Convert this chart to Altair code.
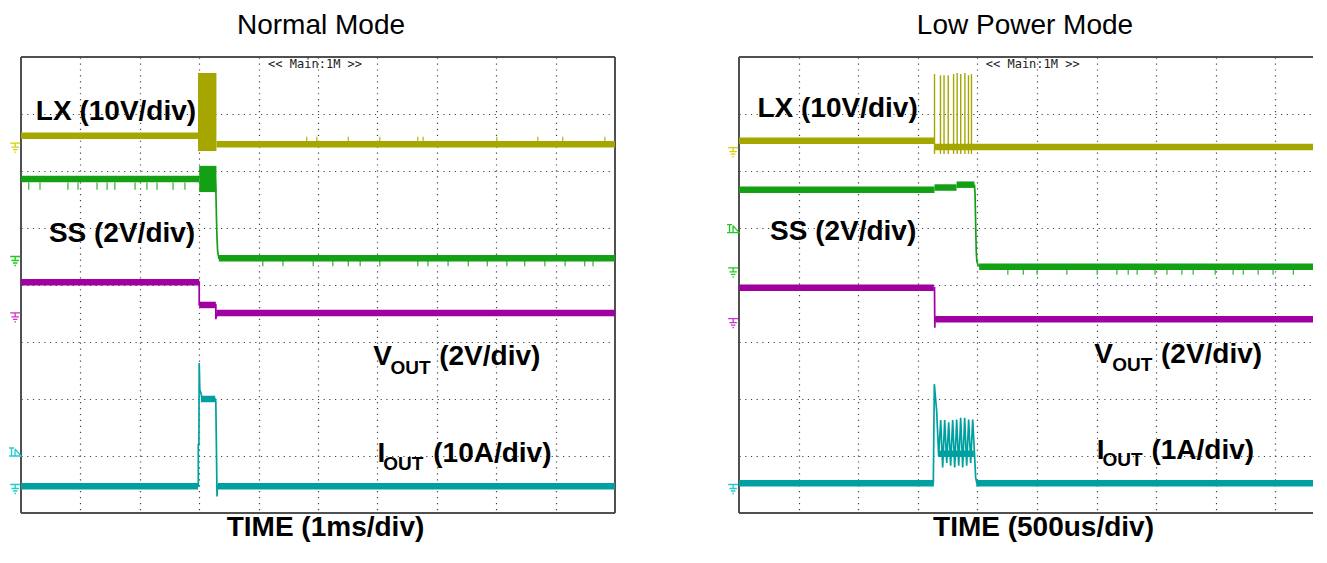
import altair as alt
import pandas as pd

# ---------------- data (oscilloscope divisions: x 0..10, y 0..8) ----------------
TRACES = ["LX", "SS", "VOUT", "IOUT"]

# ---- Normal Mode (1ms/div) ----
N_LEVEL_TRACE = ["LX", "LX", "SS", "SS", "VOUT", "VOUT", "VOUT", "IOUT", "IOUT", "IOUT"]
N_LEVEL_X1 = [0.0, 3.29, 0.0, 3.33, 0.0, 3.00, 3.29, 0.0, 3.03, 3.31]
N_LEVEL_X2 = [2.98, 10.0, 3.00, 10.0, 3.00, 3.28, 10.0, 2.98, 3.27, 10.0]
N_LEVEL_Y = [6.62, 6.47, 5.86, 4.47, 4.05, 3.65, 3.51, 0.47, 2.00, 0.47]

N_BURST_TRACE = ["LX", "SS"]
N_BURST_X1 = [2.98, 3.00]
N_BURST_X2 = [3.29, 3.29]
N_BURST_Y1 = [6.35, 5.63]
N_BURST_Y2 = [7.72, 6.09]

N_SS_EDGE_X = [3.27, 3.28, 3.29, 3.30, 3.31, 3.33, 3.36]
N_SS_EDGE_Y = [5.88, 5.70, 5.20, 4.82, 4.60, 4.47, 4.47]
N_VOUT_EDGE_X = [2.99, 3.00, 3.00, 3.28, 3.28, 3.30]
N_VOUT_EDGE_Y = [4.05, 4.05, 3.65, 3.65, 3.40, 3.51]
N_IOUT_EDGE_X = [2.97, 2.985, 2.985, 2.995, 3.00, 3.01, 3.03, 3.05, 3.27, 3.28, 3.30, 3.305, 3.32]
N_IOUT_EDGE_Y = [0.47, 0.47, 1.20, 1.20, 2.63, 2.16, 2.10, 2.00, 2.00, 1.95, 0.29, 0.47, 0.47]

# small glitches on the traces
N_GLITCH_TRACE = (["SS"] * 12) + (["SS"] * 18) + (["LX"] * 10)
N_GLITCH_X = [0.13, 0.32, 0.79, 0.96, 1.28, 1.45, 1.58, 1.92, 2.12, 2.29, 2.56, 2.76,
              4.07, 4.41, 4.92, 5.25, 5.51, 5.71, 6.04, 6.68, 6.85, 7.19, 7.53, 7.85,
              8.18, 8.48, 8.82, 9.16, 9.49, 9.63,
              4.81, 4.98, 5.51, 6.04, 6.68, 6.77, 8.01, 8.70, 9.12, 9.83]
N_GLITCH_Y1 = [5.80] * 12 + [4.42] * 18 + [6.52] * 10
N_GLITCH_Y2 = [5.67] * 12 + [4.33] * 18 + [6.60] * 10

N_GND_TRACE = ["LX", "SS", "VOUT", "IOUT"]
N_GND_Y = [6.49, 4.50, 3.51, 0.50]
N_TRIG_TRACE = ["IOUT"]
N_TRIG_Y = [1.07]

N_LABEL_TEXT = ["LX (10V/div)", "SS (2V/div)", "V", "(2V/div)", "I", "(10A/div)"]
N_LABEL_X = [0.25, 0.47, 5.93, 7.04, 6.00, 6.94]
N_LABEL_Y = [6.90, 4.75, 2.59, 2.59, 0.895, 0.895]
N_SUB_TEXT = ["OUT", "OUT"]
N_SUB_X = [6.22, 6.10]
N_SUB_Y = [2.44, 0.76]

# ---- Low Power Mode (500us/div) ----
P_XMAX = 9.63
P_LEVEL_TRACE = ["LX", "LX", "SS", "SS", "SS", "SS", "VOUT", "VOUT", "IOUT", "IOUT", "IOUT"]
P_LEVEL_X1 = [0.0, 3.28, 0.0, 3.28, 3.65, 4.03, 0.0, 3.30, 0.0, 3.98, 3.34]
P_LEVEL_X2 = [3.28, 9.63, 3.28, 3.65, 3.95, 9.63, 3.27, 9.63, 3.27, 9.63, 3.94]
P_LEVEL_Y = [6.53, 6.42, 5.67, 5.71, 5.76, 4.32, 3.95, 3.40, 0.52, 0.52, 1.04]

P_LX_SPIKE_X = [3.28, 3.38, 3.44, 3.51, 3.60, 3.66, 3.72, 3.79, 3.85, 3.90]
P_LX_SPIKE_TOP = [7.70, 7.68, 7.68, 7.68, 7.70, 7.72, 7.70, 7.72, 7.68, 7.70]
P_LX_SPIKE_BOTTOM = [6.30, 6.30, 6.30, 6.30, 6.30, 6.30, 6.30, 6.30, 6.30, 6.30]

P_SS_EDGE_X = [3.95, 3.96, 3.97, 3.98, 3.99, 4.01, 4.05]
P_SS_EDGE_Y = [5.76, 5.60, 5.10, 4.60, 4.42, 4.35, 4.32]
P_VOUT_EDGE_X = [3.27, 3.28, 3.285, 3.29, 3.30, 3.32]
P_VOUT_EDGE_Y = [3.95, 3.95, 3.25, 3.45, 3.38, 3.40]
P_IOUT_EDGE_X = [3.26, 3.277, 3.316, 3.350, 3.384, 3.417, 3.451, 3.485, 3.518, 3.551, 3.585,
                 3.619, 3.652, 3.686, 3.719, 3.753, 3.786, 3.820, 3.853, 3.887, 3.921, 3.954,
                 3.971, 3.99]
P_IOUT_EDGE_Y = [0.52, 2.26, 1.79, 1.00, 1.63, 0.80, 1.63, 0.88, 1.59, 0.83, 1.63,
                 0.80, 1.64, 0.83, 1.67, 0.80, 1.67, 0.83, 1.64, 0.88, 1.64, 0.97,
                 0.62, 0.52]

P_GLITCH_TRACE = ["SS"] * 18
P_GLITCH_X = [4.51, 4.77, 5.00, 5.50, 6.01, 6.34, 6.53, 6.68, 6.98, 7.18, 7.43, 7.62,
              7.99, 8.29, 8.46, 8.71, 8.96, 9.30]
P_GLITCH_Y1 = [4.27] * 18
P_GLITCH_Y2 = [4.18] * 18

P_GND_TRACE = ["LX", "SS", "VOUT", "IOUT"]
P_GND_Y = [6.41, 4.30, 3.41, 0.50]
P_TRIG_TRACE = ["SS"]
P_TRIG_Y = [4.99]

P_LABEL_TEXT = ["LX (10V/div)", "SS (2V/div)", "V", "(2V/div)", "I", "(1A/div)"]
P_LABEL_X = [0.31, 0.52, 5.96, 7.08, 6.00, 6.92]
P_LABEL_Y = [6.94, 4.79, 2.63, 2.63, 0.94, 0.94]
P_SUB_TEXT = ["OUT", "OUT"]
P_SUB_X = [6.26, 6.10]
P_SUB_Y = [2.49, 0.82]

HEADER_TEXT = ["<< Main:1M >>"]
N_HEADER_X = [4.16]
P_HEADER_X = [4.14]
HEADER_Y = [7.81]

# frame edges of the 10x8 division graticule
N_FRAME_X1 = [0, 10, 0, 0]
N_FRAME_X2 = [0, 10, 10, 10]
N_FRAME_Y1 = [0, 0, 0, 8]
N_FRAME_Y2 = [8, 8, 0, 8]
P_FRAME_X1 = [0, 0, 0]
P_FRAME_X2 = [0, 9.63, 9.63]
P_FRAME_Y1 = [0, 0, 8]
P_FRAME_Y2 = [8, 0, 8]

GRID_X = [1, 2, 3, 4, 5, 6, 7, 8, 9]
GRID_Y = [1, 2, 3, 4, 5, 6, 7]

# ---------------- styles ----------------
TRACE_COLOR = {"LX": "#a6a600", "SS": "#14a014", "VOUT": "#a000a0", "IOUT": "#00a0a0"}
GLITCH_COLOR = {"LX": "#b8b830", "SS": "#40b840", "VOUT": "#b030b0", "IOUT": "#30b0b0"}
MARK_COLOR = {"LX": "#d2d200", "SS": "#22c822", "VOUT": "#cc33cc", "IOUT": "#22cccc"}
FONT = "Liberation Sans"
GND_PATH = "M-1,0H1M0,0V0.8M-0.75,0.8H0.75M-0.45,1.3H0.45M-0.15,1.8H0.15"
TRIG_PATH = "M-1.2,-0.8H-0.2M-0.7,-0.8V0.8M0,-0.6L1.2,0.8H-1.2M0,-0.6V0.8"


def edges_df(parts):
    rows = []
    for seg, (trace, xs, ys) in enumerate(parts):
        for i, (x, y) in enumerate(zip(xs, ys)):
            rows.append({"seg": seg, "i": i, "x": x, "y": y, "c": TRACE_COLOR[trace]})
    return pd.DataFrame(rows)


def panel(title, title_dx, time_label, time_x, xmax, width, levels, bursts, spikes, edges,
          glitches, gnd, trig, labels, subs, header_x, frame):
    xs = alt.Scale(domain=[0, xmax], nice=False, zero=False)
    ys = alt.Scale(domain=[0, 8], nice=False, zero=False)
    xaxis = alt.Axis(values=GRID_X, grid=True, labels=False, ticks=False, domain=False,
                     title=time_label, titleFont=FONT, titleFontSize=28, titleFontWeight="bold",
                     titleColor="black", titleX=time_x, titleY=22, titleBaseline="alphabetic",
                     titleAlign="center", gridColor="#444444", gridDash=[1.2, 4.74],
                     gridWidth=1.2, gridOpacity=1)
    yaxis = alt.Axis(values=GRID_Y, grid=True, labels=False, ticks=False, domain=False,
                     title="", gridColor="#444444", gridDash=[1.2, 4.5], gridWidth=1.2,
                     gridOpacity=1)

    def X(f):
        return alt.X(f, scale=xs, axis=xaxis, title=time_label)

    def Y(f):
        return alt.Y(f, scale=ys, axis=yaxis, title="")

    fdf = pd.DataFrame({"x1": frame[0], "x2": frame[1], "y1": frame[2], "y2": frame[3]})
    frame_l = alt.Chart(fdf).mark_rule(color="#505050", strokeWidth=2).encode(
        x=X("x1:Q"), x2="x2:Q", y=Y("y1:Q"), y2="y2:Q")

    gldf = pd.DataFrame({"trace": glitches[0], "x": glitches[1], "y1": glitches[2],
                         "y2": glitches[3]})
    gldf["c"] = gldf["trace"].map(GLITCH_COLOR)
    glitch_l = alt.Chart(gldf).mark_rule(strokeWidth=1.3).encode(
        x=X("x:Q"), y=Y("y1:Q"), y2="y2:Q", color=alt.Color("c:N", scale=None))

    ldf = pd.DataFrame({"trace": levels[0], "x1": levels[1], "x2": levels[2], "y": levels[3]})
    ldf["c"] = ldf["trace"].map(TRACE_COLOR)
    level_l = alt.Chart(ldf).mark_rule(strokeWidth=6.5, strokeCap="butt").encode(
        x=X("x1:Q"), x2="x2:Q", y=Y("y:Q"), color=alt.Color("c:N", scale=None))

    layers = [frame_l, glitch_l, level_l]

    if bursts is not None:
        bdf = pd.DataFrame({"trace": bursts[0], "x1": bursts[1], "x2": bursts[2],
                            "y1": bursts[3], "y2": bursts[4]})
        bdf["c"] = bdf["trace"].map(TRACE_COLOR)
        layers.append(alt.Chart(bdf).mark_rect().encode(
            x=X("x1:Q"), x2="x2:Q", y=Y("y1:Q"), y2="y2:Q",
            color=alt.Color("c:N", scale=None)))

    if spikes is not None:
        sdf = pd.DataFrame({"x": spikes[0], "y1": spikes[1], "y2": spikes[2]})
        layers.append(alt.Chart(sdf).mark_rule(strokeWidth=1.4, color=TRACE_COLOR["LX"]).encode(
            x=X("x:Q"), y=Y("y1:Q"), y2="y2:Q"))

    edf = edges_df(edges)
    layers.append(alt.Chart(edf).mark_line(strokeWidth=1.7).encode(
        x=X("x:Q"), y=Y("y:Q"),
        color=alt.Color("c:N", scale=None), detail="seg:N", order="i:Q"))

    gdf = pd.DataFrame({"trace": gnd[0], "y": gnd[1]})
    gdf["x"] = -0.098
    gdf["c"] = gdf["trace"].map(MARK_COLOR)
    layers.append(alt.Chart(gdf).mark_point(shape=GND_PATH, size=100, filled=False,
                                            strokeWidth=1.3, opacity=1).encode(
        x=X("x:Q"), y=Y("y:Q"), color=alt.Color("c:N", scale=None)))

    tdf = pd.DataFrame({"trace": trig[0], "y": trig[1]})
    tdf["x"] = -0.10
    tdf["c"] = tdf["trace"].map(MARK_COLOR)
    layers.append(alt.Chart(tdf).mark_point(shape=TRIG_PATH, size=100, filled=False,
                                            strokeWidth=1.3, opacity=1).encode(
        x=X("x:Q"), y=Y("y:Q"), color=alt.Color("c:N", scale=None)))

    labdf = pd.DataFrame({"t": labels[0], "x": labels[1], "y": labels[2]})
    layers.append(alt.Chart(labdf).mark_text(font=FONT, fontSize=28, fontWeight="bold",
                                             align="left", baseline="alphabetic",
                                             color="black").encode(
        x=X("x:Q"), y=Y("y:Q"), text="t:N"))

    subdf = pd.DataFrame({"t": subs[0], "x": subs[1], "y": subs[2]})
    layers.append(alt.Chart(subdf).mark_text(font=FONT, fontSize=19, fontWeight="bold",
                                             align="left", baseline="alphabetic",
                                             color="black").encode(
        x=X("x:Q"), y=Y("y:Q"), text="t:N"))

    hdf = pd.DataFrame({"t": HEADER_TEXT, "x": header_x, "y": HEADER_Y})
    layers.append(alt.Chart(hdf).mark_text(font="DejaVu Sans Mono", fontSize=12,
                                           align="left", baseline="alphabetic",
                                           color="#222222").encode(
        x=X("x:Q"), y=Y("y:Q"), text="t:N"))

    return alt.layer(*layers).properties(
        width=width, height=456,
        title=alt.TitleParams(title, font=FONT, fontSize=28, fontWeight="normal",
                              color="black", offset=16.5, dx=title_dx))


left = panel("Normal Mode", 3, "TIME (1ms/div)", 304, 10, 594,
             (N_LEVEL_TRACE, N_LEVEL_X1, N_LEVEL_X2, N_LEVEL_Y),
             (N_BURST_TRACE, N_BURST_X1, N_BURST_X2, N_BURST_Y1, N_BURST_Y2),
             None,
             [("SS", N_SS_EDGE_X, N_SS_EDGE_Y), ("VOUT", N_VOUT_EDGE_X, N_VOUT_EDGE_Y),
              ("IOUT", N_IOUT_EDGE_X, N_IOUT_EDGE_Y)],
             (N_GLITCH_TRACE, N_GLITCH_X, N_GLITCH_Y1, N_GLITCH_Y2),
             (N_GND_TRACE, N_GND_Y), (N_TRIG_TRACE, N_TRIG_Y),
             (N_LABEL_TEXT, N_LABEL_X, N_LABEL_Y), (N_SUB_TEXT, N_SUB_X, N_SUB_Y),
             N_HEADER_X, (N_FRAME_X1, N_FRAME_X2, N_FRAME_Y1, N_FRAME_Y2))

right = panel("Low Power Mode", -1, "TIME (500us/div)", 304, P_XMAX, 574,
              (P_LEVEL_TRACE, P_LEVEL_X1, P_LEVEL_X2, P_LEVEL_Y),
              None,
              (P_LX_SPIKE_X, P_LX_SPIKE_TOP, P_LX_SPIKE_BOTTOM),
              [("SS", P_SS_EDGE_X, P_SS_EDGE_Y), ("VOUT", P_VOUT_EDGE_X, P_VOUT_EDGE_Y),
               ("IOUT", P_IOUT_EDGE_X, P_IOUT_EDGE_Y)],
              (P_GLITCH_TRACE, P_GLITCH_X, P_GLITCH_Y1, P_GLITCH_Y2),
              (P_GND_TRACE, P_GND_Y), (P_TRIG_TRACE, P_TRIG_Y),
              (P_LABEL_TEXT, P_LABEL_X, P_LABEL_Y), (P_SUB_TEXT, P_SUB_X, P_SUB_Y),
              P_HEADER_X, (P_FRAME_X1, P_FRAME_X2, P_FRAME_Y1, P_FRAME_Y2))

chart = alt.hconcat(left, right, spacing=124, bounds="flush").properties(
    padding={"left": -3, "top": 3, "right": 0, "bottom": 0}
).configure_view(stroke="transparent")

chart.save("out.html", embed_options={"renderer": "svg", "actions": False})
